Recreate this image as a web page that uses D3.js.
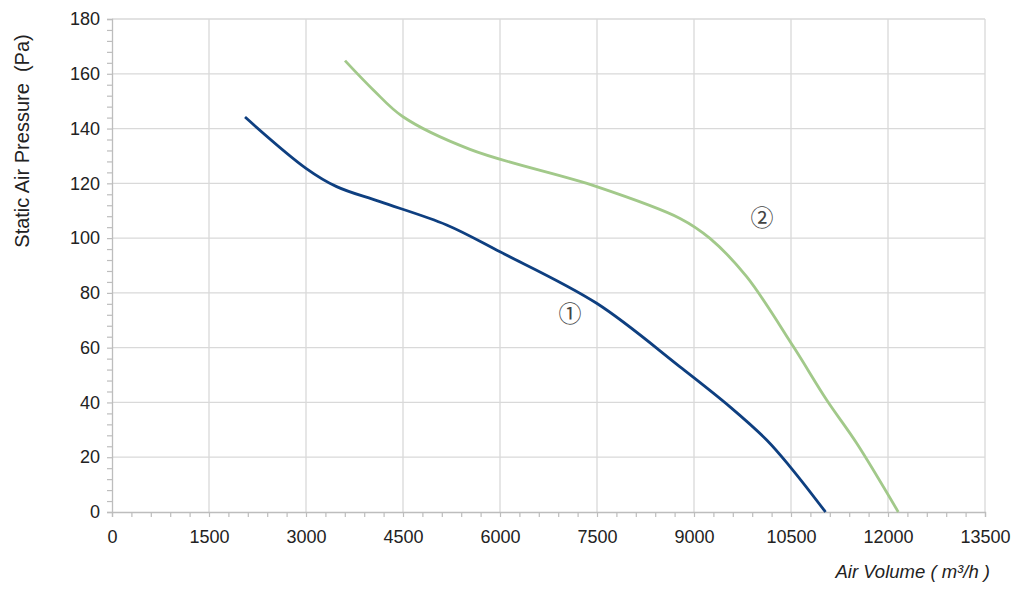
<!DOCTYPE html>
<html><head><meta charset="utf-8">
<script src="https://cdn.jsdelivr.net/npm/d3@7"></script>
<style>body{margin:0;background:#fff;}svg{display:block;font-family:"Liberation Sans",Arial,sans-serif;}</style>
</head><body>
<svg id="c" width="1024" height="594"></svg>
<script>
const xTicks = [0,1500,3000,4500,6000,7500,9000,10500,12000,13500];
const yTicks = [0,20,40,60,80,100,120,140,160,180];
const curve1X = [2057,3000,3474,4144,5175,6000,7495,8784,9557,10124,10487,11034];
const curve1Y = [144.2,125.5,118.8,113.3,104.8,95,76.2,53,38.4,26.3,16.5,0];
const curve2X = [3603,4041,4500,5536,7495,8784,9247,9814,10536,11052,11516,12159];
const curve2Y = [164.8,154.1,144.3,132.4,118.8,107.2,99.9,85.9,60.4,40.9,25.1,0];
const labels = [{t:"①",x:7082,y:73},{t:"②",x:10050,y:108}];

const svg = d3.select("#c");
const x = d3.scaleLinear().domain([0,13500]).range([112,985]);
const y = d3.scaleLinear().domain([0,180]).range([512,19]);

// grid
svg.append("g").selectAll("line").data(xTicks.slice(1)).join("line")
  .attr("x1",d=>x(d)).attr("x2",d=>x(d)).attr("y1",y(0)).attr("y2",y(180))
  .attr("stroke","#d9d9d9").attr("stroke-width",1.3);
svg.append("g").selectAll("line").data(yTicks.slice(1)).join("line")
  .attr("x1",x(0)).attr("x2",x(13500)).attr("y1",d=>y(d)).attr("y2",d=>y(d))
  .attr("stroke","#d9d9d9").attr("stroke-width",1.3);

// axes
const xAxis = d3.axisBottom(x).tickValues(d3.range(0,13501,300)).tickSize(5)
  .tickFormat(d=> xTicks.includes(d)? d : "");
const gx = svg.append("g").attr("transform",`translate(0,${y(0)})`).call(xAxis);
gx.select(".domain").attr("stroke","#bdbdbd").attr("stroke-width",1.3);
gx.selectAll(".tick line").attr("stroke","#bdbdbd").attr("stroke-width",1.2);
gx.selectAll(".tick text").attr("font-size",18).attr("fill","#222").attr("y",13).attr("dy","1em")
  .attr("font-family","Liberation Sans, Arial, sans-serif");

const yAxis = d3.axisLeft(y).tickValues(d3.range(0,181,4)).tickSize(5)
  .tickFormat(d=> yTicks.includes(d)? d : "");
const gy = svg.append("g").attr("transform",`translate(${x(0)},0)`).call(yAxis);
gy.select(".domain").attr("stroke","#bdbdbd").attr("stroke-width",1.3);
gy.selectAll(".tick line").attr("stroke","#bdbdbd").attr("stroke-width",1.2);
gy.selectAll(".tick text").attr("font-size",18).attr("fill","#222").attr("x",-12)
  .attr("font-family","Liberation Sans, Arial, sans-serif");

// curves
const line = d3.line().x(d=>x(d[0])).y(d=>y(d[1])).curve(d3.curveCatmullRom.alpha(0.5));
svg.append("path").datum(curve1X.map((v,i)=>[v,curve1Y[i]]))
  .attr("d",line).attr("fill","none").attr("stroke","#0e3f80").attr("stroke-width",2.8);
svg.append("path").datum(curve2X.map((v,i)=>[v,curve2Y[i]]))
  .attr("d",line).attr("fill","none").attr("stroke","#a2c98a").attr("stroke-width",2.8);

// labels
svg.append("g").selectAll("text").data(labels).join("text")
  .attr("x",d=>x(d.x)).attr("y",d=>y(d.y)).attr("text-anchor","middle").attr("dominant-baseline","central")
  .attr("font-size",23).attr("fill","#444").attr("font-family","Noto Sans CJK SC, DejaVu Sans, serif").text(d=>d.t);

// titles
svg.append("text").attr("transform","translate(29,141) rotate(-90)").attr("text-anchor","middle")
  .attr("font-size",20).attr("fill","#222").text("Static Air Pressure\u00a0\u00a0(Pa)");
svg.append("text").attr("x",990).attr("y",578).attr("text-anchor","end").attr("font-style","italic")
  .attr("font-size",18.5).attr("fill","#222").text("Air Volume ( m³/h )");
</script>
</body></html>
